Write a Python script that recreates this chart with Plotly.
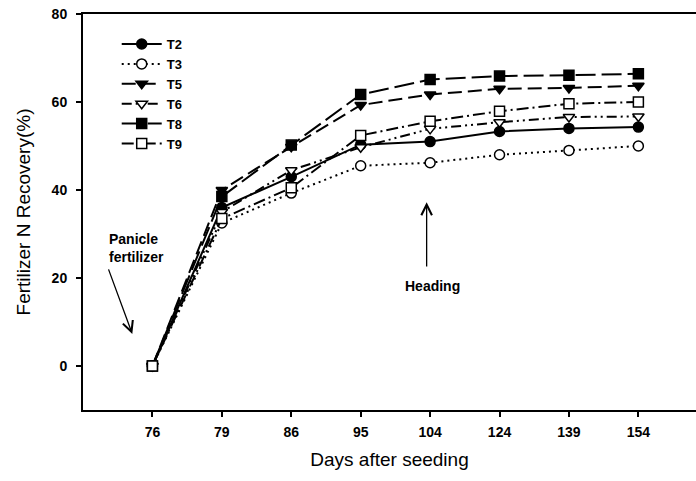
import plotly.graph_objects as go

# Sampling days (categorical axis)
days = ["76", "79", "86", "95", "104", "124", "139", "154"]

# Fertilizer N recovery (%) per treatment
t2 = [0, 36.0, 43.0, 50.3, 51.0, 53.3, 54.0, 54.3]
t3 = [0, 32.5, 39.3, 45.5, 46.2, 48.0, 49.0, 50.0]
t5 = [0, 40.0, 49.8, 59.3, 61.7, 63.0, 63.2, 63.7]
t6 = [0, 35.0, 44.5, 49.7, 53.9, 55.4, 56.6, 56.7]
t8 = [0, 38.5, 50.2, 61.7, 65.1, 65.9, 66.1, 66.4]
t9 = [0, 33.5, 40.5, 52.4, 55.6, 57.9, 59.6, 60.0]

y_ticks = [0, 20, 40, 60, 80]

# name, values, marker symbol, marker fill, line dash
series = [
    ("T2", t2, "circle", "black", "solid"),
    ("T3", t3, "circle", "white", "2px,4px"),
    ("T5", t5, "triangle-down", "black", "14px,6px"),
    ("T6", t6, "triangle-down", "white", "10px,4px,2px,4px,2px,4px"),
    ("T8", t8, "square", "black", "20px,6px"),
    ("T9", t9, "square", "white", "12px,4px,2px,4px"),
]

fig = go.Figure()
for name, vals, sym, fill, dash in series:
    fig.add_trace(go.Scatter(
        x=days, y=vals, name=name, mode="lines+markers",
        line=dict(color="black", width=2, dash=dash),
        marker=dict(symbol=sym, size=10, color=fill,
                    line=dict(color="black", width=1.5)),
    ))

font_family = "Liberation Sans, Arial, sans-serif"

fig.update_layout(
    width=696, height=481,
    margin=dict(l=83, r=0, t=14, b=71),
    paper_bgcolor="white", plot_bgcolor="white",
    font=dict(family=font_family, color="black"),
    showlegend=True,
    legend=dict(x=0.055, y=0.962, xanchor="left", yanchor="top",
                bgcolor="rgba(0,0,0,0)", borderwidth=0,
                font=dict(size=13, family=font_family, weight="bold"),
                itemwidth=40),
    xaxis=dict(
        type="category", range=[-1.0, 7.83],
        showline=True, linecolor="black", linewidth=2, mirror=True,
        ticks="outside", ticklen=5, tickwidth=1.5, tickcolor="black",
        showgrid=False, zeroline=False,
        tickfont=dict(size=14, weight="bold"),
        ticklabelstandoff=3,
        title=dict(text="Days after seeding", font=dict(size=19), standoff=14),
    ),
    yaxis=dict(
        range=[-10, 80], tickvals=y_ticks,
        showline=True, linecolor="black", linewidth=2, mirror=False,
        ticks="outside", ticklen=5, tickwidth=1.5, tickcolor="black",
        showgrid=False, zeroline=False,
        tickfont=dict(size=14, weight="bold"),
        ticklabelstandoff=6,
        title=dict(text="Fertilizer N Recovery(%)", font=dict(size=19), standoff=16),
    ),
)

# Panicle fertilizer arrow and label
fig.add_annotation(
    x=-0.29, y=7.3, ax=-0.64, ay=22.3, xref="x", yref="y", axref="x", ayref="y",
    text="", showarrow=True, arrowhead=5, arrowsize=1.6, arrowwidth=1.3,
    arrowcolor="black",
)
fig.add_annotation(
    x=-0.66, y=26.8, xref="x", yref="y", showarrow=False,
    text="Panicle<br>fertilizer", align="left", xanchor="left", yanchor="middle",
    font=dict(size=14, weight="bold"),
)

# Heading arrow and label
fig.add_annotation(
    x=3.95, y=37.2, ax=3.95, ay=22.3, xref="x", yref="y", axref="x", ayref="y",
    text="", showarrow=True, arrowhead=5, arrowsize=1.6, arrowwidth=1.3,
    arrowcolor="black",
)
fig.add_annotation(
    x=4.03, y=18.2, xref="x", yref="y", showarrow=False,
    text="Heading", font=dict(size=14, weight="bold"),
)

fig.write_html("out.html")
